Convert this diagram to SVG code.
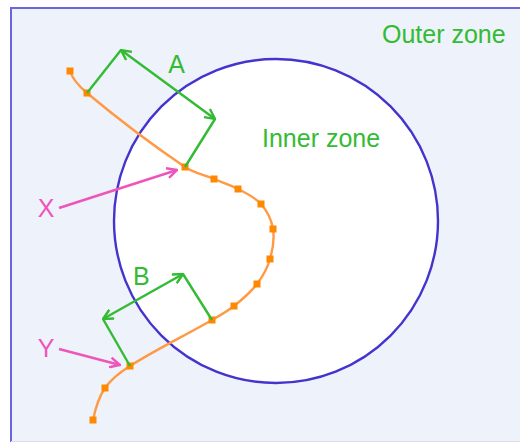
<svg xmlns="http://www.w3.org/2000/svg" width="520" height="443" viewBox="0 0 520 443">
<style>
.lbl{font-family:"Liberation Sans",Arial,sans-serif;font-size:25px;}
.g{fill:#33bb33;}
.p{fill:#ee55bb;}
.gl{stroke:#33bb33;stroke-width:2.4;fill:none;}
.pl{stroke:#ee55bb;stroke-width:2.4;fill:none;}
.sq{fill:#ff8800;}
</style>
<defs>
<marker id="ag" viewBox="0 0 12 12" refX="11" refY="6" markerWidth="12" markerHeight="12" markerUnits="userSpaceOnUse" orient="auto-start-reverse">
<path d="M1,1 L11,6 L1,11" fill="none" stroke="#33bb33" stroke-width="2.4"/>
</marker>
<marker id="ap" viewBox="0 0 12 12" refX="11" refY="6" markerWidth="12" markerHeight="12" markerUnits="userSpaceOnUse" orient="auto">
<path d="M1,1 L11,6 L1,11" fill="none" stroke="#ee55bb" stroke-width="2.4"/>
</marker>
</defs>
<rect x="0" y="0" width="520" height="443" fill="#ffffff"/>
<g id="outer-zone">
<rect x="11" y="8" width="520" height="434" fill="#eef2fa"/>
<path d="M11,442 L11,8 L520,8" fill="none" stroke="#6b66dd" stroke-width="2"/>
<line x1="11" y1="441.5" x2="520" y2="441.5" stroke="#dcdce6" stroke-width="1"/>
<text class="lbl g" x="382" y="43">Outer zone</text>
</g>
<g id="inner-zone">
<circle cx="276" cy="221" r="162" fill="#ffffff" stroke="#4433cc" stroke-width="2.4"/>
<text class="lbl g" x="262" y="147">Inner zone</text>
</g>
<g id="path-curve">
<path d="M70,71 C72.8,79.8 79.9,87 87,93 C118.4,119.2 151.1,144.1 185,167 C193.7,172.9 204.3,175 214,179 C222,182.3 230.3,184.9 238,189 C246.1,193.3 254.9,197.1 261,204 C267.1,210.9 271.5,219.9 273,229 C274.6,238.9 272.8,249.4 270,259 C267.4,268 262.7,276.5 257,284 C250.6,292.4 242.3,299.4 234,306 C227.2,311.4 219.5,315.7 212,320 C184.9,335.7 156.4,349.2 130,366 C120.6,371.9 111.3,378.9 105,388 C98.6,397.4 95.3,408.8 93,420" fill="none" stroke="#ff9944" stroke-width="2.4"/>
<rect class="sq" x="66.5" y="67.5" width="7" height="7"/>
<rect class="sq" x="83.5" y="89.5" width="7" height="7"/>
<rect class="sq" x="181.5" y="163.5" width="7" height="7"/>
<rect class="sq" x="210.5" y="175.5" width="7" height="7"/>
<rect class="sq" x="234.5" y="185.5" width="7" height="7"/>
<rect class="sq" x="257.5" y="200.5" width="7" height="7"/>
<rect class="sq" x="269.5" y="225.5" width="7" height="7"/>
<rect class="sq" x="266.5" y="255.5" width="7" height="7"/>
<rect class="sq" x="253.5" y="280.5" width="7" height="7"/>
<rect class="sq" x="230.5" y="302.5" width="7" height="7"/>
<rect class="sq" x="208.5" y="316.5" width="7" height="7"/>
<rect class="sq" x="126.5" y="362.5" width="7" height="7"/>
<rect class="sq" x="101.5" y="384.5" width="7" height="7"/>
<rect class="sq" x="89.5" y="416.5" width="7" height="7"/>
</g>
<g id="connectors">
<line class="gl" x1="87" y1="93" x2="121" y2="50"/>
<line class="gl" x1="185" y1="167" x2="215" y2="119"/>
<line class="gl" x1="121" y1="50" x2="215" y2="119" marker-start="url(#ag)" marker-end="url(#ag)"/>
<line class="gl" x1="212" y1="320" x2="183" y2="274"/>
<line class="gl" x1="130" y1="366" x2="103" y2="319"/>
<line class="gl" x1="103" y1="319" x2="183" y2="274" marker-start="url(#ag)" marker-end="url(#ag)"/>
<line class="pl" x1="59" y1="208" x2="177" y2="170" marker-end="url(#ap)"/>
<line class="pl" x1="59" y1="349" x2="120" y2="365" marker-end="url(#ap)"/>
</g>
<g id="label-A"><text class="lbl g" x="176.5" y="73" text-anchor="middle">A</text></g>
<g id="label-B"><text class="lbl g" x="133" y="285">B</text></g>
<g id="label-X"><text class="lbl p" x="46" y="216.5" text-anchor="middle">X</text></g>
<g id="label-Y"><text class="lbl p" x="46" y="356.5" text-anchor="middle">Y</text></g>
</svg>
